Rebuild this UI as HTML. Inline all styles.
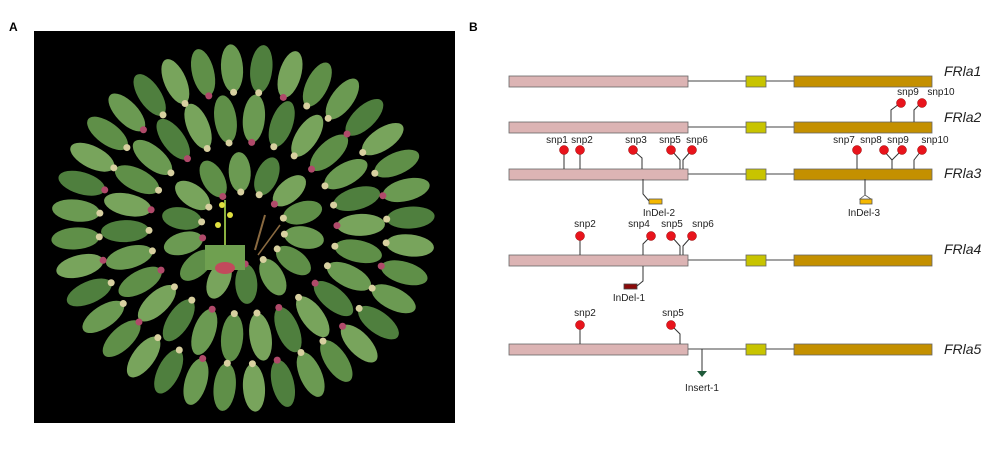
<!DOCTYPE html>
<html><head><meta charset="utf-8"><style>
body{margin:0;background:#fff;width:1000px;height:455px;overflow:hidden;font-family:"Liberation Sans",Arial,sans-serif}
svg{position:absolute;left:0;top:0}
</style></head><body>
<svg id="s" width="1000" height="455" viewBox="0 0 1000 455" xmlns="http://www.w3.org/2000/svg" font-family="Liberation Sans, Arial, sans-serif">
<defs><clipPath id="cp"><rect x="34" y="31" width="421" height="392"/></clipPath></defs>
<text x="9" y="31" font-size="12" font-weight="bold">A</text>
<text x="469" y="31" font-size="12" font-weight="bold">B</text>
<rect x="34" y="31" width="421" height="392" fill="#000"/>
<g id="plants" clip-path="url(#cp)"></g>
<rect x="205" y="245" width="40" height="25" fill="#6fa050"/>
<ellipse cx="225" cy="268" rx="10" ry="6" fill="#c24a5c"/>
<line x1="225" y1="245" x2="225" y2="200" stroke="#8ab040" stroke-width="2"/>
<circle cx="222" cy="205" r="3" fill="#e0e040"/><circle cx="230" cy="215" r="3" fill="#e0e040"/><circle cx="218" cy="225" r="3" fill="#e0e040"/>
<line x1="255" y1="250" x2="265" y2="215" stroke="#8a6a40" stroke-width="2"/>
<line x1="258" y1="255" x2="280" y2="225" stroke="#8a6a40" stroke-width="1.5"/>

<g stroke="#444" stroke-width="1" fill="none">
<line x1="688" y1="81" x2="794" y2="81"/><line x1="688" y1="127" x2="794" y2="127"/>
<line x1="688" y1="174" x2="794" y2="174"/><line x1="688" y1="260" x2="794" y2="260"/>
<line x1="688" y1="349" x2="794" y2="349"/>
</g>
<g id="genes"></g>
<g stroke="#333" stroke-width="1" fill="none">
<polyline points="891,122 891,110 899,104"/><polyline points="914,122 914,110 920,104"/>
<line x1="564" y1="169" x2="564" y2="150"/><line x1="580" y1="169" x2="580" y2="150"/>
<polyline points="642,169 642,158 634,151"/><polyline points="680,169 680,160 672,151"/><polyline points="683,169 683,160 691,151"/>
<line x1="857" y1="169" x2="857" y2="150"/><polyline points="892,169 892,160 884,151"/><polyline points="892,160 901,151"/><polyline points="914,169 914,160 921,151"/>
<polyline points="643,179 643,194 649,201"/><line x1="865" y1="179" x2="865" y2="196"/>
<line x1="580" y1="255" x2="580" y2="236"/><polyline points="643,255 643,244 650,237"/>
<polyline points="680,255 680,246 672,237"/><polyline points="683,255 683,246 691,237"/>
<polyline points="643,266 643,281 637,286"/>
<line x1="580" y1="344" x2="580" y2="325"/><polyline points="680,344 680,334 672,326"/>
<line x1="702" y1="349" x2="702" y2="371"/>
</g>
<g fill="#e8141c" stroke="#900" stroke-width="0.5">
<circle cx="901" cy="103" r="4.5"/><circle cx="922" cy="103" r="4.5"/>
<circle cx="564" cy="150" r="4.5"/><circle cx="580" cy="150" r="4.5"/><circle cx="633" cy="150" r="4.5"/><circle cx="671" cy="150" r="4.5"/><circle cx="692" cy="150" r="4.5"/>
<circle cx="857" cy="150" r="4.5"/><circle cx="884" cy="150" r="4.5"/><circle cx="902" cy="150" r="4.5"/><circle cx="922" cy="150" r="4.5"/>
<circle cx="580" cy="236" r="4.5"/><circle cx="651" cy="236" r="4.5"/><circle cx="671" cy="236" r="4.5"/><circle cx="692" cy="236" r="4.5"/>
<circle cx="580" cy="325" r="4.5"/><circle cx="671" cy="325" r="4.5"/>
</g>
<rect x="649" y="199" width="13" height="5" fill="#f5b800" stroke="#555" stroke-width="0.8"/>
<rect x="860" y="199" width="12" height="5" fill="#f5b800" stroke="#555" stroke-width="0.8"/>
<polygon points="865,195 860,199 871,199" fill="#fff" stroke="#555" stroke-width="0.8"/>
<rect x="624" y="284" width="13" height="5" fill="#8b0a0a" stroke="#444" stroke-width="0.8"/>
<polygon points="697,371 707,371 702,377" fill="#1f5a3a"/>
<g font-size="10" fill="#222" text-anchor="middle">
<text x="908" y="95">snp9</text><text x="941" y="95">snp10</text>
<text x="557" y="143">snp1</text><text x="582" y="143">snp2</text><text x="636" y="143">snp3</text><text x="670" y="143">snp5</text><text x="697" y="143">snp6</text>
<text x="844" y="143">snp7</text><text x="871" y="143">snp8</text><text x="898" y="143">snp9</text><text x="935" y="143">snp10</text>
<text x="659" y="216">InDel-2</text><text x="864" y="216">InDel-3</text>
<text x="585" y="227">snp2</text><text x="639" y="227">snp4</text><text x="672" y="227">snp5</text><text x="703" y="227">snp6</text>
<text x="629" y="301">InDel-1</text>
<text x="585" y="316">snp2</text><text x="673" y="316">snp5</text>
<text x="702" y="391">Insert-1</text>
</g>
<g font-size="14" font-style="italic" fill="#222">
<text x="944" y="76">FRla1</text><text x="944" y="122">FRla2</text><text x="944" y="178">FRla3</text><text x="944" y="254">FRla4</text><text x="944" y="354">FRla5</text>
</g>
</svg>
<script>
var ns="http://www.w3.org/2000/svg";
var g=document.getElementById('genes');
[[76,87],[122,133],[169,180],[255,266],[344,355]].forEach(function(r){
 var h=r[1]-r[0];
 [[509,688,'#dcb4b4'],[746,766,'#c8c400'],[794,932,'#c49000']].forEach(function(b){
  var e=document.createElementNS(ns,'rect');
  e.setAttribute('x',b[0]);e.setAttribute('y',r[0]);e.setAttribute('width',b[1]-b[0]);e.setAttribute('height',h);
  e.setAttribute('fill',b[2]);e.setAttribute('stroke','#666');e.setAttribute('stroke-width','0.8');g.appendChild(e);
 });
});
var p=document.getElementById('plants');
var cx=243,cy=228;
var rings=[[62,56,14],[118,110,26],[168,160,36]];
var cols=['#5f8f48','#6b9a52','#4f7f3e','#78a45c'];
var k=0;
rings.forEach(function(r){
 var L=r[0]<100?20:(r[0]<150?24:24);
 for(var i=0;i<r[2];i++){
  var a=i/r[2]*Math.PI*2+r[0]*0.01;
  var x=cx+Math.cos(a)*r[0], y=cy+Math.sin(a)*r[1];
  var deg=a*180/Math.PI;
  var e=document.createElementNS(ns,'ellipse');
  e.setAttribute('cx',x);e.setAttribute('cy',y);e.setAttribute('rx',L);e.setAttribute('ry',11);
  e.setAttribute('fill',cols[k++%4]);
  e.setAttribute('transform','rotate('+deg+' '+x+' '+y+')');p.appendChild(e);
  var bx=x-Math.cos(a)*L, by=y-Math.sin(a)*L;
  var c=document.createElementNS(ns,'circle');
  c.setAttribute('cx',bx);c.setAttribute('cy',by);c.setAttribute('r',3.5);
  c.setAttribute('fill',(k%3==0)?'#b04a6a':'#d8d0a0');p.appendChild(c);
 }
});
</script>
</body></html>
